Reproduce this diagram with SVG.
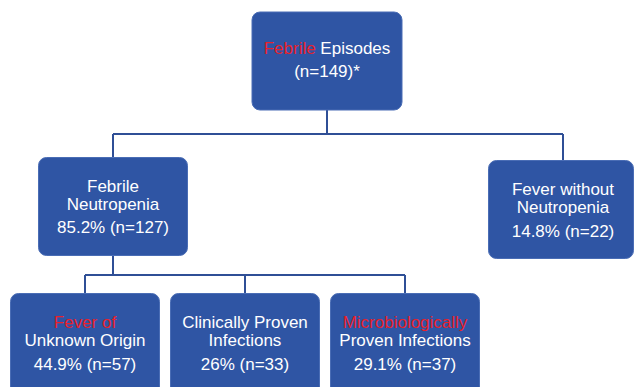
<svg xmlns="http://www.w3.org/2000/svg" width="634" height="387" viewBox="0 0 634 387">
<style>
.box{fill:#2F55A4;stroke:#4A6DB5;stroke-width:1}
.t{font-family:"Liberation Sans",Arial,sans-serif;font-size:17px;fill:#FFFFFF;text-anchor:middle}
.r{fill:#E8212B}
.c{fill:none;stroke:#2F4F96;stroke-width:2}
</style>
<rect width="634" height="387" fill="#FFFFFF"/>
<g id="connectors">
<path class="c" d="M327 110V134M113 134H563M113 134V158M563 134V161"/>
<path class="c" d="M113 256V275M85 275H405M85 275V294M245 275V294M405 275V294"/>
</g>
<g id="n-top">
<rect class="box" x="252" y="12" width="150" height="98" rx="8"/>
<text class="t" x="327" y="54"><tspan class="r">Febrile</tspan> Episodes</text>
<text class="t" x="327" y="77">(n=149)*</text>
</g>
<g id="n-fn">
<rect class="box" x="38.5" y="157.5" width="149" height="98" rx="8"/>
<text class="t" x="113" y="191.5">Febrile</text>
<text class="t" x="113" y="209.5">Neutropenia</text>
<text class="t" x="113" y="233">85.2% (n=127)</text>
</g>
<g id="n-fwn">
<rect class="box" x="488.5" y="160.5" width="145" height="98" rx="8"/>
<text class="t" x="563" y="194.5">Fever without</text>
<text class="t" x="563" y="212.5">Neutropenia</text>
<text class="t" x="563" y="237">14.8% (n=22)</text>
</g>
<g id="n-fuo">
<rect class="box" x="10.5" y="293.5" width="149" height="110" rx="8"/>
<text class="t r" x="85" y="327.5">Fever of</text>
<text class="t" x="85" y="345.5">Unknown Origin</text>
<text class="t" x="85" y="370">44.9% (n=57)</text>
</g>
<g id="n-cpi">
<rect class="box" x="170.5" y="293.5" width="149" height="110" rx="8"/>
<text class="t" x="245" y="327.5">Clinically Proven</text>
<text class="t" x="245" y="345.5">Infections</text>
<text class="t" x="245" y="370">26% (n=33)</text>
</g>
<g id="n-mpi">
<rect class="box" x="330.5" y="293.5" width="149" height="110" rx="8"/>
<text class="t r" x="405" y="327.5">Microbiologically</text>
<text class="t" x="405" y="345.5">Proven Infections</text>
<text class="t" x="405" y="370">29.1% (n=37)</text>
</g>
</svg>
